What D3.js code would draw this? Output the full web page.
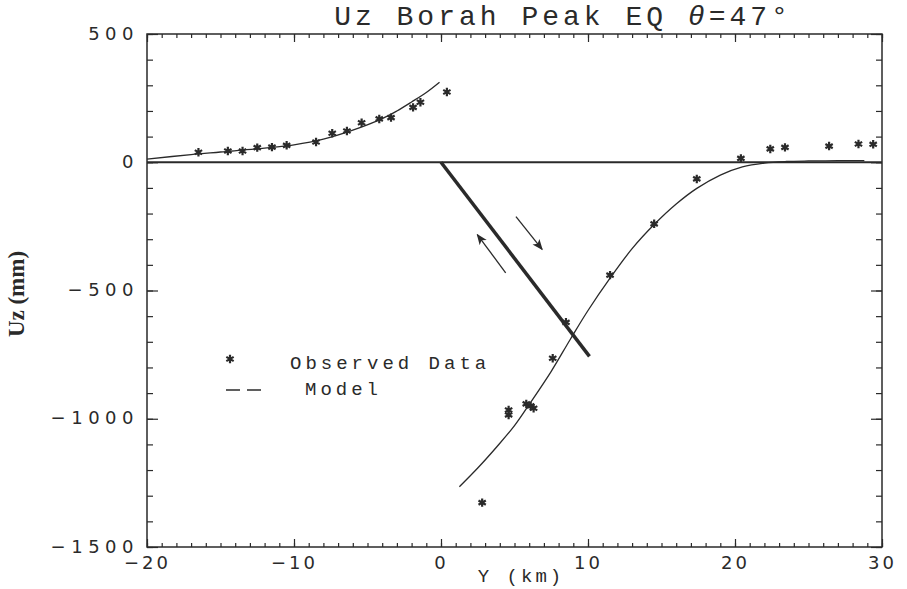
<!DOCTYPE html>
<html>
<head>
<meta charset="utf-8">
<script src="https://cdn.jsdelivr.net/npm/d3@7/dist/d3.min.js"></script>
<style>
  html, body { margin: 0; padding: 0; background: #fff; }
  svg { display: block; }
  .mono { font-family: "Liberation Mono", "DejaVu Sans Mono", monospace; fill: #2a2a2a; }
  .tick text { font-family: "DejaVu Sans", sans-serif; fill: #2a2a2a; }
</style>
</head>
<body>
<svg id="chart" width="907" height="589"></svg>
<script>
// Observed vertical displacement (Y in km, Uz in mm)
const obsY  = [-16.5, -14.5, -13.5, -12.5, -11.5, -10.5, -8.5, -7.4, -6.4, -5.4, -4.2, -3.4, -1.9, -1.4, 0.4,
               2.8, 4.6, 4.6, 5.8, 6.1, 6.3, 7.6, 8.5, 11.5, 14.5, 17.4, 20.4, 22.4, 23.4, 26.4, 28.4, 29.4];
const obsUz = [39, 44, 44, 57, 59, 66, 79, 113, 122, 154, 169, 174, 214, 234, 274,
               -1327, -966, -985, -942, -950, -959, -764, -624, -440, -240, -65, 15, 52, 58, 63, 71, 70];

// Model curve, hanging wall side (west of fault trace)
const modelWestY  = [-20, -17, -15, -12, -10, -8, -6, -4, -3, -2, -1, -0.1];
const modelWestUz = [12, 30, 40, 55, 68, 90, 125, 170, 200, 235, 272, 312];

// Model curve, footwall side (east of fault trace)
const modelEastY  = [1.25, 2.5, 3.8, 5, 6.05, 7.5, 8.8, 10, 11.5, 13, 14.5, 16, 17.4, 19, 20.5, 22, 23.5, 25, 27, 28.8];
const modelEastUz = [-1265, -1192, -1109, -1027, -940, -815, -690, -578, -452, -337, -243, -163, -102, -50, -18, -3, 3, 5, 6, 6];

// Fault plane trace and slip-sense arrows
const faultY  = [0, 10.1];
const faultUz = [0, -757];
const arrowFromY  = [5.1, 4.4];
const arrowFromUz = [-212, -431];
const arrowToY    = [6.88, 2.47];
const arrowToUz   = [-340, -282];

// Axis ticks
const xMajor = [-20, -10, 0, 10, 20, 30];
const yMajor = [500, 0, -500, -1000, -1500];
const xMinor = d3.range(-20, 31, 1);
const yMinor = d3.range(-1500, 501, 100);

const svg = d3.select("#chart");
const pl = 147, pr = 882, pt = 34, pb = 547;
const x = d3.scaleLinear().domain([-20, 30]).range([pl, pr]);
const y = d3.scaleLinear().domain([-1500, 500]).range([pb, pt]);
const ink = "#2a2a2a";

svg.append("defs").append("marker")
  .attr("id", "head").attr("viewBox", "0 0 10 10")
  .attr("refX", 9).attr("refY", 5)
  .attr("markerWidth", 11).attr("markerHeight", 11)
  .attr("markerUnits", "userSpaceOnUse")
  .attr("orient", "auto")
  .append("path").attr("d", "M0,1 L10,5 L0,9 L2.5,5 Z").attr("fill", ink);

// Frame
svg.append("rect")
  .attr("x", pl).attr("y", pt)
  .attr("width", pr - pl).attr("height", pb - pt)
  .attr("fill", "none").attr("stroke", ink).attr("stroke-width", 1.5);

function styleAxis(g) {
  g.select(".domain").remove();
  g.selectAll(".tick line").attr("stroke", ink).attr("stroke-width", 1.2);
}

// Minor ticks on all sides
svg.append("g").attr("transform", `translate(0,${pb})`)
  .call(d3.axisBottom(x).tickValues(xMinor).tickSize(-4).tickFormat(""))
  .call(styleAxis);
svg.append("g").attr("transform", `translate(0,${pt})`)
  .call(d3.axisTop(x).tickValues(xMinor).tickSize(-4).tickFormat(""))
  .call(styleAxis);
svg.append("g").attr("transform", `translate(${pl},0)`)
  .call(d3.axisLeft(y).tickValues(yMinor).tickSize(-6).tickFormat(""))
  .call(styleAxis);
svg.append("g").attr("transform", `translate(${pr},0)`)
  .call(d3.axisRight(y).tickValues(yMinor).tickSize(-6).tickFormat(""))
  .call(styleAxis);

// Major ticks with labels
const minusFmt = d => (d < 0 ? "\u2212" + Math.abs(d) : String(d));
const xAx = svg.append("g").attr("transform", `translate(0,${pb})`)
  .call(d3.axisBottom(x).tickValues(xMajor).tickSize(-8).tickPadding(9).tickFormat(minusFmt))
  .call(styleAxis);
xAx.selectAll("text").attr("font-size", 18).attr("letter-spacing", 3).attr("dy", "0.72em");
svg.append("g").attr("transform", `translate(0,${pt})`)
  .call(d3.axisTop(x).tickValues(xMajor).tickSize(-8).tickFormat(""))
  .call(styleAxis);
const yAx = svg.append("g").attr("transform", `translate(${pl},0)`)
  .call(d3.axisLeft(y).tickValues(yMajor).tickSize(-11).tickPadding(8).tickFormat(minusFmt))
  .call(styleAxis);
yAx.selectAll("text").attr("font-size", 18).attr("letter-spacing", 5.5).attr("dy", "0.28em");
svg.append("g").attr("transform", `translate(${pr},0)`)
  .call(d3.axisRight(y).tickValues(yMajor).tickSize(-11).tickFormat(""))
  .call(styleAxis);

// Zero line
svg.append("line")
  .attr("x1", x(-20)).attr("x2", x(30)).attr("y1", y(0)).attr("y2", y(0))
  .attr("stroke", ink).attr("stroke-width", 2);

// Model curves
const line = d3.line().x(d => x(d[0])).y(d => y(d[1])).curve(d3.curveCatmullRom);
[[modelWestY, modelWestUz], [modelEastY, modelEastUz]].forEach(([ys, us]) => {
  svg.append("path")
    .attr("d", line(ys.map((v, i) => [v, us[i]])))
    .attr("fill", "none").attr("stroke", ink).attr("stroke-width", 1.3);
});

// Fault
svg.append("line")
  .attr("x1", x(faultY[0])).attr("y1", y(faultUz[0]))
  .attr("x2", x(faultY[1])).attr("y2", y(faultUz[1]))
  .attr("stroke", ink).attr("stroke-width", 3.5);

// Slip arrows
arrowFromY.forEach((v, i) => {
  svg.append("line")
    .attr("x1", x(v)).attr("y1", y(arrowFromUz[i]))
    .attr("x2", x(arrowToY[i])).attr("y2", y(arrowToUz[i]))
    .attr("stroke", ink).attr("stroke-width", 1.3)
    .attr("marker-end", "url(#head)");
});

// Observed data
const star = d3.symbol().type(d3.symbolAsterisk).size(50);
svg.append("g").selectAll("path")
  .data(obsY.map((v, i) => [v, obsUz[i]]))
  .join("path")
  .attr("transform", d => `translate(${x(d[0])},${y(d[1])})`)
  .attr("d", star)
  .attr("fill", "none").attr("stroke", ink).attr("stroke-width", 2.2);

// Legend
svg.append("path").attr("transform", "translate(230,359)").attr("d", star)
  .attr("fill", "none").attr("stroke", ink).attr("stroke-width", 2.2);
svg.append("text").attr("class", "mono").attr("x", 290).attr("y", 369)
  .attr("font-size", 19).attr("letter-spacing", 4).text("Observed Data");
svg.append("line").attr("x1", 226).attr("x2", 240).attr("y1", 390).attr("y2", 390)
  .attr("stroke", ink).attr("stroke-width", 1.5);
svg.append("line").attr("x1", 247).attr("x2", 261).attr("y1", 390).attr("y2", 390)
  .attr("stroke", ink).attr("stroke-width", 1.5);
svg.append("text").attr("class", "mono").attr("x", 305).attr("y", 395)
  .attr("font-size", 19).attr("letter-spacing", 4).text("Model");

// Title
const title = svg.append("text").attr("class", "mono")
  .attr("x", 563).attr("y", 25).attr("text-anchor", "middle")
  .attr("font-size", 28).attr("letter-spacing", 4);
title.append("tspan").text("Uz Borah Peak EQ ");
title.append("tspan").attr("font-style", "italic").text("\u03b8");
title.append("tspan").text("=47\u00b0");

// Axis titles
svg.append("text").attr("class", "mono")
  .attr("x", 521).attr("y", 582).attr("text-anchor", "middle")
  .attr("font-size", 19).attr("letter-spacing", 3).text("Y (km)");
svg.append("text")
  .attr("transform", "translate(24,294) rotate(-90)")
  .attr("text-anchor", "middle")
  .attr("font-family", "Liberation Serif, serif").attr("font-weight", "bold")
  .attr("font-size", 23).attr("fill", ink).text("Uz (mm)");
</script>
</body>
</html>
